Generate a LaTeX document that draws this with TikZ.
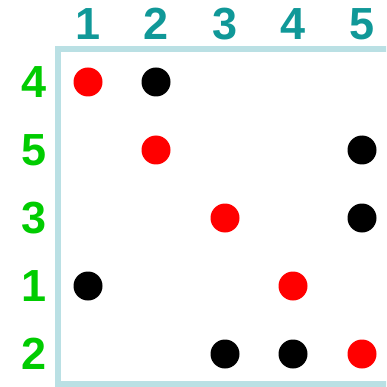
\documentclass[tikz,border=0pt]{standalone}
\usepackage{fontspec}
\setmainfont{Liberation Sans}
\definecolor{frameblue}{RGB}{186,224,228}
\definecolor{colteal}{RGB}{16,152,152}
\definecolor{rowgreen}{RGB}{0,204,0}
\definecolor{dotred}{RGB}{255,0,0}
\tikzset{
  collab/.style={text=colteal,font=\fontsize{45}{45}\selectfont\bfseries,inner sep=0pt,anchor=center},
  rowlab/.style={text=rowgreen,font=\fontsize{45}{45}\selectfont\bfseries,inner sep=0pt,anchor=center},
  reddot/.style={circle,fill=dotred,minimum size=29pt,inner sep=0pt},
  blackdot/.style={circle,fill=black,minimum size=29pt,inner sep=0pt},
}
\begin{document}
\begin{tikzpicture}[x=1pt,y=-1pt]
\useasboundingbox (0,0) rectangle (386,387);
\clip (0,0) rectangle (386,387);
\draw[frameblue,line width=6pt] (58,49) rectangle (390,384);
% column labels
\node[collab] (c1) at (88,24) {1};
\node[collab] (c2) at (156,24) {2};
\node[collab] (c3) at (225,24) {3};
\node[collab] (c4) at (293,24) {4};
\node[collab] (c5) at (362,24) {5};
% row labels
\node[rowlab] (r4) at (34,82) {4};
\node[rowlab] (r5) at (34,150) {5};
\node[rowlab] (r3) at (34,218) {3};
\node[rowlab] (r1) at (34,286) {1};
\node[rowlab] (r2) at (34,354) {2};
% dots
\node[reddot] (d11) at (88,82) {};
\node[blackdot] (d12) at (156,82) {};
\node[reddot] (d22) at (156,150) {};
\node[blackdot] (d25) at (362,150) {};
\node[reddot] (d33) at (225,218) {};
\node[blackdot] (d35) at (362,218) {};
\node[blackdot] (d41) at (88,286) {};
\node[reddot] (d44) at (293,286) {};
\node[blackdot] (d53) at (225,354) {};
\node[blackdot] (d54) at (293,354) {};
\node[reddot] (d55) at (362,354) {};
\end{tikzpicture}
\end{document}
